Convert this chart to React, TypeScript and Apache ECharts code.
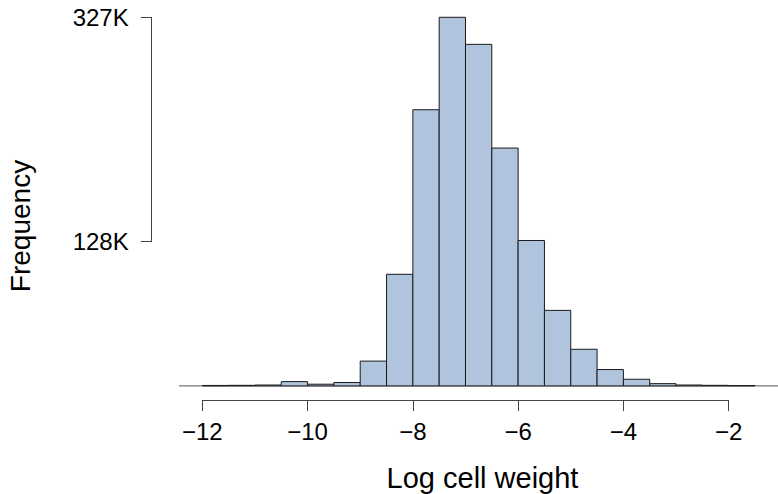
import React, { useEffect, useRef } from "react";
import * as echarts from "echarts";

// Histogram bin edges (log cell weight) and counts in thousands
const binEdges = [-12, -11.5, -11, -10.5, -10, -9.5, -9, -8.5, -8, -7.5, -7, -6.5, -6, -5.5, -5, -4.5, -4, -3.5, -3, -2.5, -2, -1.5];
const countsK = [0.4, 0.5, 0.8, 3.8, 1.5, 3.0, 22, 99, 245, 327, 303, 211, 129, 67, 32.5, 14.5, 5.9, 2.0, 0.8, 0.5, 0.3];
const xTicks = [-12, -10, -8, -6, -4, -2];
const yTicks = [128, 327];
const xTitle = "Log cell weight";
const yTitle = "Frequency";

const FONT = '"Liberation Sans", Arial, Helvetica, sans-serif';

export default function App() {
  const ref = useRef<HTMLDivElement>(null);
  useEffect(() => {
    document.body.style.margin = "0";
    const chart = echarts.init(ref.current!, null, { renderer: "svg" });
    const histData = countsK.map((c, i) => [binEdges[i], binEdges[i + 1], c]);
    const xMin = -12.42, xMax = -1.08, yMin = -13.08, yMax = 340.08;
    chart.setOption({
      animation: false,
      backgroundColor: "#ffffff",
      textStyle: { fontFamily: FONT },
      grid: [
        { left: 180.2, top: 2.55, width: 596.9, height: 398.1 },
        { left: 151.7, top: 17.3, width: 10, height: 224.4 },
        { left: 202.3, top: 399, width: 526.4, height: 1 },
      ],
      xAxis: [
        { type: "value", gridIndex: 0, min: xMin, max: xMax, show: false },
        { type: "value", gridIndex: 1, min: 0, max: 1, show: false },
        {
          type: "value",
          gridIndex: 2,
          min: -12,
          max: -2,
          interval: 2,
          position: "bottom",
          axisLine: { show: true, lineStyle: { color: "#444", width: 1 } },
          axisTick: { show: true, inside: false, length: 11, lineStyle: { color: "#444", width: 1 }, customValues: xTicks },
          axisLabel: {
            show: true,
            margin: 19,
            color: "#000",
            fontSize: 24,
            fontFamily: FONT,
            customValues: xTicks,
            formatter: (v: number) => (v < 0 ? "\u2212" + Math.abs(v) : String(v)),
          },
          splitLine: { show: false },
        },
      ],
      yAxis: [
        { type: "value", gridIndex: 0, min: yMin, max: yMax, show: false },
        {
          type: "value",
          gridIndex: 1,
          min: 128,
          max: 327,
          position: "left",
          axisLine: { show: true, lineStyle: { color: "#444", width: 1 } },
          axisTick: { show: true, inside: false, length: 11, lineStyle: { color: "#444", width: 1 }, customValues: yTicks },
          axisLabel: {
            show: true,
            margin: 23,
            color: "#000",
            fontSize: 24,
            fontFamily: FONT,
            customValues: yTicks,
            formatter: (v: number) => v + "K",
          },
          splitLine: { show: false },
        },
        { type: "value", gridIndex: 2, min: 0, max: 1, show: false },
      ],
      graphic: [
        {
          type: "text",
          x: 482.5,
          y: 478,
          style: {
            text: xTitle,
            fontSize: 29,
            fontFamily: FONT,
            fill: "#000",
            textAlign: "center",
            textVerticalAlign: "middle",
          },
        },
        {
          type: "text",
          x: 20,
          y: 226,
          rotation: Math.PI / 2,
          style: {
            text: yTitle,
            fontSize: 28,
            fontFamily: FONT,
            fill: "#000",
            textAlign: "center",
            textVerticalAlign: "middle",
          },
        },
      ],
      series: [
        {
          type: "line",
          xAxisIndex: 0,
          yAxisIndex: 0,
          data: [[-12.5, 0], [-1.0, 0]],
          symbol: "none",
          clip: false,
          lineStyle: { color: "#555", width: 1 },
          silent: true,
          z: 1,
        },
        {
          type: "custom",
          xAxisIndex: 0,
          yAxisIndex: 0,
          data: histData,
          encode: { x: [0, 1], y: 2 },
          clip: false,
          z: 2,
          renderItem: (params: any, api: any) => {
            const p0 = api.coord([api.value(0), api.value(2)]);
            const p1 = api.coord([api.value(1), 0]);
            return {
              type: "rect",
              shape: { x: p0[0], y: p0[1], width: p1[0] - p0[0], height: p1[1] - p0[1] },
              style: { fill: "#B0C4DE", stroke: "#1a1a1a", lineWidth: 1 },
            };
          },
        },
      ],
    });
    return () => chart.dispose();
  }, []);
  return <div ref={ref} style={{ width: 778, height: 494 }} />;
}
